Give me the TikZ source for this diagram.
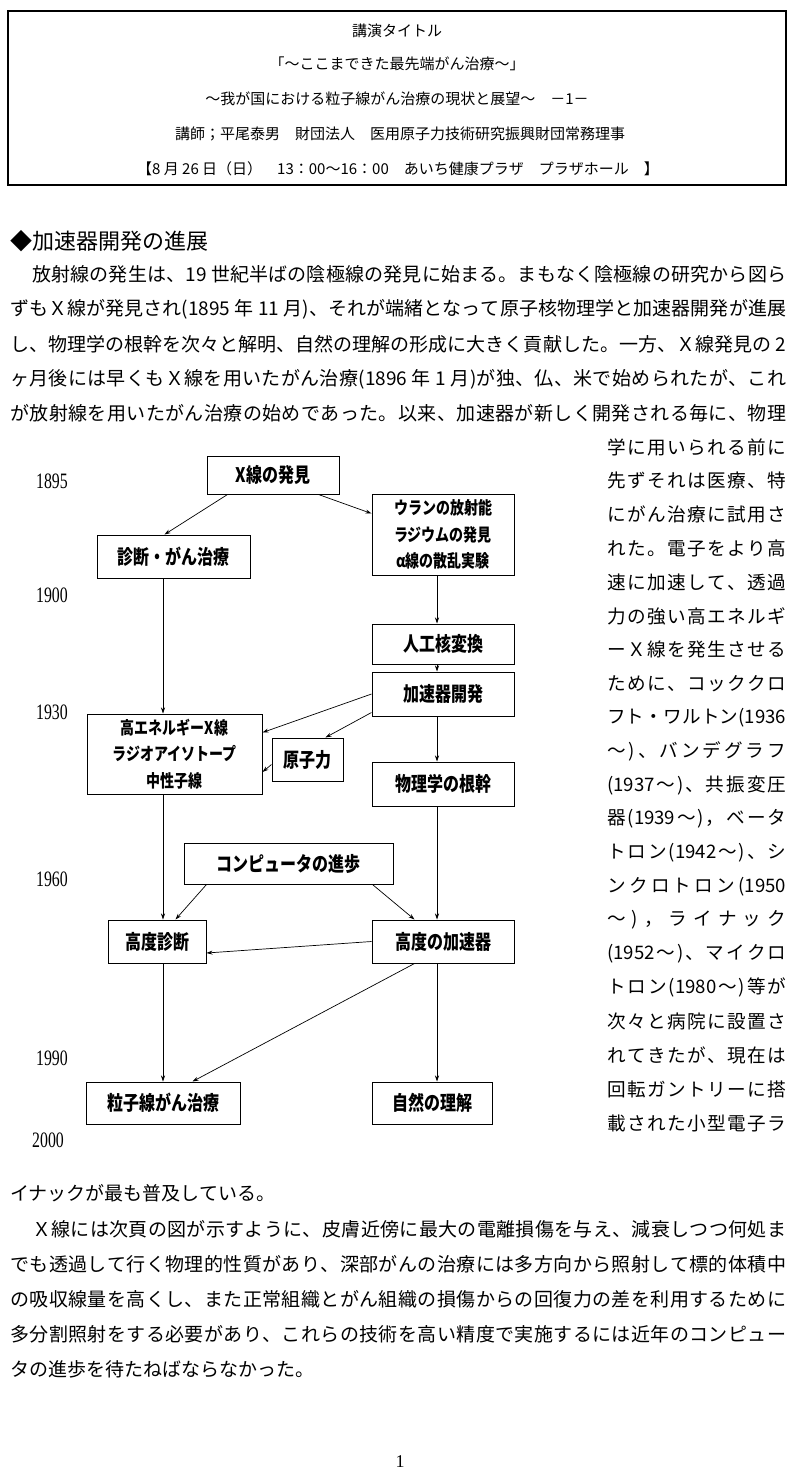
\documentclass[tikz,border=0pt]{standalone}
\usepackage{fontspec}
\setmainfont{Liberation Serif}
\newfontfamily\jp{Noto Sans CJK JP}
\usetikzlibrary{arrows.meta,calc}
% spread the characters of a line evenly over a given width
\def\sprd#1{#1\sprdnext}
\def\sprdnext#1{\ifx\relax#1\else\hskip0pt plus 1fil\relax#1\expandafter\sprdnext\fi}
\newcommand{\jl}[2]{\hbox to #1{\sprd #2\relax}}
\newcommand{\jlx}[2]{\hbox to #1{\expandafter\sprd#2\relax}}
\tikzset{
  bx/.style={draw, line width=1pt, inner sep=0pt, font=\jp\bfseries\fontsize{20}{22}\selectfont},
  bxm/.style={draw, line width=1pt, inner sep=0pt, align=center, font=\jp\bfseries\fontsize{17.5}{26.5}\selectfont},
  arr/.style={-{Stealth[length=6pt,width=4pt]}, line width=0.7pt},
  yr/.style={inner sep=0pt, font=\fontsize{22}{22}\selectfont},
  body/.style={anchor=west, inner sep=0pt, font=\jp\fontsize{19}{19}\selectfont},
  rcol/.style={anchor=west, inner sep=0pt, font=\jp\fontsize{18.6}{19}\selectfont},
  hd/.style={inner sep=0pt, font=\jp\fontsize{15}{15}\selectfont},
  ttl/.style={anchor=west, inner sep=0pt, font=\jp\fontsize{22}{22}\selectfont},
}
\begin{document}
\begin{tikzpicture}[x=1pt,y=-1pt]
\useasboundingbox (0,0) rectangle (800,1484);
\fill[white] (0,0) rectangle (800,1484);
% header
\draw[line width=1.4pt] (8,11) rectangle (786,185);
\node[hd] (h1) at (397,31) {講演タイトル};
\node[hd] (h2) at (397,64) {「〜ここまできた最先端がん治療〜」};
\node[hd] (h3) at (397,99) {〜我が国における粒子線がん治療の現状と展望〜　－1－};
\node[hd] (h4) at (400,134) {講師；平尾泰男　財団法人　医用原子力技術研究振興財団常務理事};
\node[hd] (h5) at (398,169) {【8 月 26 日（日）　13：00〜16：00　あいち健康プラザ　プラザホール　】};
% title
\node[ttl] (ttl) at (10,241) {◆加速器開発の進展};
% paragraph 1
\node[body] (p1a) at (32,274) {\jl{754pt}{放射線の発生は、{19 }世紀半ばの陰極線の発見に始まる。まもなく陰極線の研究から図ら}};
\node[body] (p1b) at (10,309) {\jl{776pt}{ずもＸ線が発見され{(1895 }年{ 11 }月)、それが端緒となって原子核物理学と加速器開発が進展}};
\node[body] (p1c) at (10,344) {\jl{776pt}{し、物理学の根幹を次々と解明、自然の理解の形成に大きく貢献した。一方、Ｘ線発見の{ 2}}};
\node[body] (p1d) at (10,379) {\jl{776pt}{ヶ月後には早くもＸ線を用いたがん治療{(1896 }年{ 1 }月)が独、仏、米で始められたが、これ}};
\node[body] (p1e) at (10,413) {\jl{776pt}{が放射線を用いたがん治療の始めであった。以来、加速器が新しく開発される毎に、物理}};
% right column
\foreach \t [count=\i from 0] in {学に用いられる前に,先ずそれは医療、特,にがん治療に試用さ,れた。電子をより高,速に加速して、透過,力の強い高エネルギ,ーＸ線を発生させる,ために、コッククロ,フト・ワルトン{(1936},〜)、バンデグラフ,{(1937}〜)、共振変圧,器{(1939}〜)，ベータ,トロン{(1942}〜)、シ,ンクロトロン{(1950},〜)，ライナック,{(1952}〜)、マイクロ,トロン{(1980}〜)等が,次々と病院に設置さ,れてきたが、現在は,回転ガントリーに搭,載された小型電子ラ}
  {\node[rcol] (rc\i) at (607,447+33.8*\i) {\jlx{179pt}{\t}};}
\node[body] (p1z) at (10,1193) {イナックが最も普及している。};
% paragraph 2
\node[body] (p2a) at (32,1229) {\jl{754pt}{Ｘ線には次頁の図が示すように、皮膚近傍に最大の電離損傷を与え、減衰しつつ何処ま}};
\node[body] (p2b) at (10,1264) {\jl{776pt}{でも透過して行く物理的性質があり、深部がんの治療には多方向から照射して標的体積中}};
\node[body] (p2c) at (10,1299) {\jl{776pt}{の吸収線量を高くし、また正常組織とがん組織の損傷からの回復力の差を利用するために}};
\node[body] (p2d) at (10,1334) {\jl{776pt}{多分割照射をする必要があり、これらの技術を高い精度で実施するには近年のコンピュー}};
\node[body] (p2e) at (10,1369) {タの進歩を待たねばならなかった。};
\node[inner sep=0pt, font=\fontsize{18}{18}\selectfont] (pg) at (400,1462) {1};
% years
\node[yr] (y1) at (52,481) {\scalebox{0.72}[1]{1895}};
\node[yr] (y2) at (52,595) {\scalebox{0.72}[1]{1900}};
\node[yr] (y3) at (52,712) {\scalebox{0.72}[1]{1930}};
\node[yr] (y4) at (52,879) {\scalebox{0.72}[1]{1960}};
\node[yr] (y5) at (52,1058) {\scalebox{0.72}[1]{1990}};
\node[yr] (y6) at (48,1140) {\scalebox{0.72}[1]{2000}};
% boxes
\node[bx, minimum width=132, minimum height=38] (xr) at (273,475) {\scalebox{0.8}[1]{X線の発見}};
\node[bx, minimum width=153, minimum height=43] (sd) at (173.5,556.5) {\scalebox{0.8}[1]{診断・がん治療}};
\node[bxm, minimum width=142, minimum height=81] (ur) at (443,534.5) {\scalebox{0.8}[1]{ウランの放射能}\\\scalebox{0.8}[1]{ラジウムの発見}\\\scalebox{0.8}[1]{α線の散乱実験}};
\node[bx, minimum width=142, minimum height=40] (jk) at (443,644) {\scalebox{0.8}[1]{人工核変換}};
\node[bx, minimum width=142, minimum height=44] (kk) at (443,694) {\scalebox{0.8}[1]{加速器開発}};
\node[bxm, minimum width=175, minimum height=80] (he) at (174.5,754) {\scalebox{0.8}[1]{高エネルギーX線}\\\scalebox{0.8}[1]{ラジオアイソトープ}\\\scalebox{0.8}[1]{中性子線}};
\node[bx, minimum width=71, minimum height=43] (gs) at (307.5,759.5) {\scalebox{0.8}[1]{原子力}};
\node[bx, minimum width=142, minimum height=44] (bk) at (443,784) {\scalebox{0.8}[1]{物理学の根幹}};
\node[bx, minimum width=209, minimum height=41] (cp) at (288.5,863.5) {\scalebox{0.8}[1]{コンピュータの進歩}};
\node[bx, minimum width=98, minimum height=43] (ks) at (157,941.5) {\scalebox{0.8}[1]{高度診断}};
\node[bx, minimum width=142, minimum height=43] (ka) at (443,941.5) {\scalebox{0.8}[1]{高度の加速器}};
\node[bx, minimum width=154, minimum height=42] (rs) at (163,1103) {\scalebox{0.8}[1]{粒子線がん治療}};
\node[bx, minimum width=120, minimum height=42] (sr) at (432,1103) {\scalebox{0.8}[1]{自然の理解}};
% connector lanes
\coordinate (L) at (163,0);
\coordinate (R) at (437,0);
% arrows
\draw[arr] ($(xr.south west)+(21,0)$) -- ($(sd.north west)+(68,0)$);
\draw[arr] ($(xr.south east)+(-21,0)$) -- ($(ur.north west)+(0,20)$);
\draw[arr] (sd.south -| L) -- (he.north -| L);
\draw[arr] (ur.south -| R) -- (jk.north -| R);
\draw[arr] (jk.south -| R) -- (kk.north -| R);
\draw[arr] (kk.west) -- ($(he.north east)+(0,19)$);
\draw[arr] ($(kk.south west)+(0,-4)$) -- ($(gs.north west)+(54,0)$);
\draw[arr] ($(gs.west)+(0,5)$) -- ($(he.east)+(0,18)$);
\draw[arr] (kk.south -| R) -- (bk.north -| R);
\draw[arr] (he.south -| L) -- (ks.north -| L);
\draw[arr] (bk.south -| R) -- (ka.north -| R);
\draw[arr] ($(cp.south west)+(23,0)$) -- ($(ks.north west)+(68,0)$);
\draw[arr] ($(cp.south east)+(-21,0)$) -- ($(ka.north west)+(43,0)$);
\draw[arr] (ka.west) -- ($(ks.east)+(0,11.5)$);
\draw[arr] (ks.south -| L) -- (rs.north -| L);
\draw[arr] ($(ka.south west)+(43,0)$) -- ($(rs.north west)+(107,0)$);
\draw[arr] (ka.south -| R) -- (sr.north -| R);
\end{tikzpicture}
\end{document}
